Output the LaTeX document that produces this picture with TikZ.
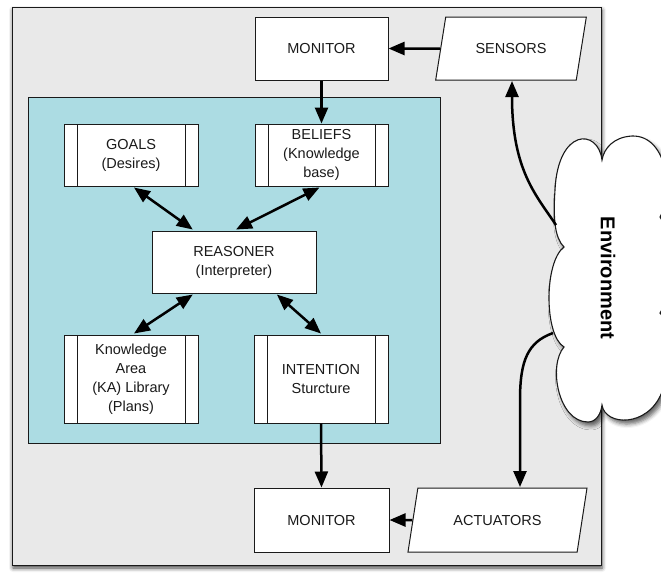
\documentclass[tikz,border=0pt]{standalone}
\usepackage{fontspec}
\setmainfont{Liberation Sans}
\usetikzlibrary{arrows.meta,shapes.geometric,shadows.blur,calc}
\definecolor{panelgray}{HTML}{E9E9E9}
\definecolor{coreteal}{HTML}{ACDCE3}
\definecolor{inkline}{HTML}{1A1A1A}
\begin{document}
\begin{tikzpicture}[x=1pt,y=-1pt,
  lbl/.style={font=\fontsize{14.5}{19}\selectfont, align=center, text=inkline},
  box/.style={lbl, draw=inkline, line width=1pt, fill=white, inner sep=0pt,
    minimum width=133pt, minimum height=63pt},
  subproc/.style={box, path picture={
    \draw[inkline, line width=1pt]
      ([xshift=13pt]path picture bounding box.north west) --
      ([xshift=13pt]path picture bounding box.south west)
      ([xshift=-13pt]path picture bounding box.north east) --
      ([xshift=-13pt]path picture bounding box.south east);}},
  iobox/.style={lbl, draw=inkline, line width=1pt, fill=white, inner sep=0pt,
    trapezium, trapezium stretches=true, trapezium left angle=62,
    trapezium right angle=118, minimum height=63pt},
  flow/.style={line width=2.5pt, draw=black, -{Triangle[length=16pt,width=13pt]}},
  bothway/.style={line width=2.5pt, draw=black,
    {Triangle[length=16pt,width=13pt]}-{Triangle[length=16pt,width=13pt]}},
]
\useasboundingbox (0,0) rectangle (661,574);

% agent frame and reasoning core
\draw[inkline, line width=1pt, fill=panelgray,
  blur shadow={shadow xshift=1pt, shadow yshift=-3pt, shadow blur radius=4pt, shadow opacity=75}]
  (12,7) rectangle (601,565);
\draw[inkline, line width=0.9pt, fill=coreteal] (28,97) rectangle (440,443);

% environment cloud
\draw[inkline, line width=1.1pt, fill=white,
  blur shadow={shadow xshift=3pt, shadow yshift=-4pt, shadow blur radius=4pt, shadow opacity=60}]
  (602,160)
  .. controls (598,128) and (558,128) .. (555,190)
  .. controls (553,220) and (555,238) .. (564,247)
  .. controls (544,262) and (544,335) .. (564,347)
  .. controls (548,365) and (558,422) .. (588,422)
  .. controls (596,422) and (601,414) .. (602,405)
  .. controls (605,426) and (648,428) .. (662,392)
  .. controls (676,370) and (676,330) .. (660,313)
  .. controls (676,290) and (676,240) .. (660,217)
  .. controls (674,195) and (668,135) .. (632,136)
  .. controls (614,137) and (604,148) .. cycle;
\node[font=\bfseries\fontsize{20}{22}\selectfont, rotate=-90] (env) at (608,278) {Environment};
\coordinate (cloudIn) at (556,225);
\coordinate (cloudOut) at (553,333);

% nodes
\node[box] (montop) at (321.5,48.5) {MONITOR};
\node[iobox, minimum width=151pt] (sensors) at (511,48.5) {SENSORS};
\node[subproc, minimum width=134pt, minimum height=62pt] (goals) at (131,155) {GOALS\\(Desires)};
\node[subproc, minimum height=62pt] (beliefs) at (321.5,155) {BELIEFS\\(Knowledge\\base)};
\node[box, minimum width=164pt, minimum height=62pt] (reasoner) at (234,262) {REASONER\\(Interpreter)};
\node[subproc, minimum width=134pt, minimum height=88pt] (ka) at (131,379) {Knowledge\\Area\\(KA) Library\\(Plans)};
\node[subproc, minimum width=134pt, minimum height=88pt] (intention) at (321,379) {INTENTION\\Sturcture};
\node[box, minimum width=135pt, minimum height=64pt] (monbot) at (321.5,520) {MONITOR};
\node[iobox, minimum width=179pt, minimum height=64pt] (actuators) at (497.5,520) {ACTUATORS};

% connectors
\draw[flow] (sensors.west) -- (montop.east);
\draw[flow] (montop.south) -- (beliefs.north);
\draw[bothway] ($(goals.south)+(3,1)$) -- ($(reasoner.north west)!0.25!(reasoner.north east)+(0,-1)$);
\draw[bothway] ($(beliefs.south)+(-2,1)$) -- ($(reasoner.north)+(2,-1)$);
\draw[bothway] ($(reasoner.south west)!0.25!(reasoner.south east)+(0,1)$) -- ($(ka.north)+(3,-1)$);
\draw[bothway] ($(reasoner.south west)!0.76!(reasoner.south east)+(0,1)$) -- ($(intention.north)+(0,-1)$);
\draw[flow] (intention.south) -- (monbot.north);
\draw[flow] (actuators.west) -- (monbot.east);
\draw[flow] (cloudIn) .. controls (536,195) and (512,170) .. (512,81);
\draw[flow] (cloudOut) .. controls (528,342) and (520,360) .. (520,400) -- (520,487);
\end{tikzpicture}
\end{document}
